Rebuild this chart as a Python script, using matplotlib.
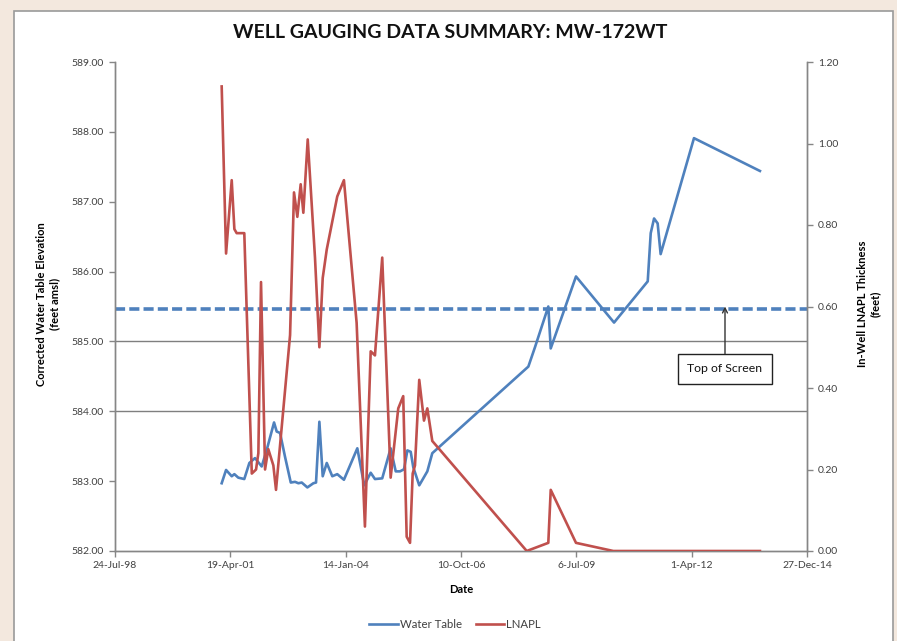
import matplotlib
matplotlib.use('Agg')
import matplotlib.pyplot as plt
import matplotlib.dates as mdates
import pandas as pd
from matplotlib.patches import Rectangle
from matplotlib.ticker import FixedLocator, FuncFormatter

# ---------------- data ----------------
wt_dates = ['2001-02-03', '2001-03-13', '2001-05-01', '2001-05-24', '2001-06-27', '2001-08-18',
            '2001-10-01', '2001-11-19', '2002-01-16', '2002-03-01', '2002-05-03', '2002-05-26',
            '2002-06-24', '2002-08-06', '2002-09-25', '2002-11-01', '2002-11-30', '2002-12-29',
            '2003-02-16', '2003-04-09', '2003-05-02', '2003-05-31', '2003-06-29', '2003-08-03',
            '2003-09-20', '2003-11-02', '2003-12-30', '2004-04-24', '2004-06-23', '2004-08-18',
            '2004-09-24', '2004-11-26', '2005-02-07', '2005-03-23', '2005-04-29', '2005-06-03',
            '2005-07-02', '2005-07-31', '2005-08-22', '2005-10-13', '2005-12-22', '2006-02-03',
            '2008-05-16', '2008-07-13', '2008-11-05', '2008-11-26', '2009-07-03', '2010-05-29',
            '2011-03-17', '2011-04-12', '2011-05-11', '2011-06-11', '2011-07-07', '2012-04-21',
            '2013-11-14']
wt_values = [582.97, 583.16, 583.07, 583.10, 583.05, 583.03,
             583.26, 583.33, 583.21, 583.45, 583.84, 583.71,
             583.69, 583.35, 582.98, 582.99, 582.97, 582.98,
             582.91, 582.97, 582.98, 583.85, 583.07, 583.26,
             583.07, 583.10, 583.02, 583.47, 582.94, 583.12,
             583.03, 583.04, 583.47, 583.14, 583.14, 583.17,
             583.44, 583.42, 583.20, 582.94, 583.14, 583.40,
             584.64, 584.92, 585.50, 584.90, 585.93, 585.27,
             585.86, 586.55, 586.76, 586.69, 586.25, 587.91,
             587.44]

lnapl_dates = ['2001-02-03', '2001-03-13', '2001-05-01', '2001-05-24', '2001-06-13', '2001-08-18',
               '2001-10-22', '2001-11-28', '2001-12-18', '2002-01-10', '2002-02-14', '2002-03-14',
               '2002-04-27', '2002-05-20', '2002-09-19', '2002-10-23', '2002-11-21', '2002-12-20',
               '2003-01-12', '2003-02-19', '2003-04-23', '2003-05-31', '2003-06-29', '2003-08-03',
               '2003-11-02', '2003-12-30', '2004-04-18', '2004-06-29', '2004-08-18', '2004-09-24',
               '2004-11-26', '2005-02-07', '2005-04-14', '2005-05-27', '2005-06-26', '2005-07-25',
               '2005-08-17', '2005-09-06', '2005-10-13', '2005-11-23', '2005-12-22', '2006-02-03',
               '2008-05-02', '2008-11-05', '2008-11-26', '2009-07-03', '2010-05-23', '2013-11-14']
lnapl_values = [1.14, 0.73, 0.91, 0.79, 0.78, 0.78,
                0.19, 0.20, 0.24, 0.66, 0.20, 0.25,
                0.21, 0.15, 0.53, 0.88, 0.82, 0.90,
                0.83, 1.01, 0.72, 0.50, 0.67, 0.74,
                0.87, 0.91, 0.56, 0.06, 0.49, 0.48,
                0.72, 0.18, 0.35, 0.38, 0.035, 0.02,
                0.19, 0.21, 0.42, 0.32, 0.35, 0.27,
                0.00, 0.02, 0.15, 0.02, 0.00, 0.00]

top_of_screen = 585.47
ref_lines = [585.0, 584.0]
x_tick_dates = ['1998-07-24', '2001-04-19', '2004-01-14', '2006-10-10',
                '2009-07-06', '2012-04-01', '2014-12-27']
left_ticks = [582, 583, 584, 585, 586, 587, 588, 589]
right_ticks = [0.0, 0.2, 0.4, 0.6, 0.8, 1.0, 1.2]

title = 'WELL GAUGING DATA SUMMARY: MW-172WT'

# ---------------- style ----------------
BLUE = '#4f81bd'
RED = '#c0504d'
AXIS_GREY = '#868686'
TICK_COLOR = '#404040'
FONT = ['Lato', 'DejaVu Sans']

plt.rcParams['font.family'] = FONT

W, H = 897, 641
fig = plt.figure(figsize=(W / 100, H / 100), dpi=100)
fig.patch.set_facecolor('#f3e8de')
fig.patches.append(Rectangle((14 / W, -0.01), (893 - 14) / W, 1 - 11 / H + 0.01,
                             transform=fig.transFigure, facecolor='white',
                             edgecolor='#9a9a9a', linewidth=1.2, zorder=-5))

l, r, t, b = 115, 807, 62, 551
ax = fig.add_axes([l / W, 1 - b / H, (r - l) / W, (b - t) / H])
ax.set_facecolor('none')
ax2 = ax.twinx()

wt_x = pd.to_datetime(wt_dates)
ln_x = pd.to_datetime(lnapl_dates)
xt = pd.to_datetime(x_tick_dates)

for y in ref_lines:
    ax.axhline(y, color='#7f7f7f', lw=1.0, zorder=1)
ax.axhline(top_of_screen, color=BLUE, lw=2.6, ls=(0, (2.8, 1.15)), zorder=2)

wt_line, = ax.plot(wt_x, wt_values, color=BLUE, lw=1.9, zorder=3, label='Water Table')
ln_line, = ax2.plot(ln_x, lnapl_values, color=RED, lw=1.9, zorder=3, label='LNAPL')

ax.set_xlim(xt[0], xt[-1])
ax.set_ylim(left_ticks[0], left_ticks[-1])
ax2.set_ylim(right_ticks[0], right_ticks[-1])

ax.xaxis.set_major_locator(FixedLocator(mdates.date2num(xt)))
ax.xaxis.set_major_formatter(FuncFormatter(
    lambda v, p: f"{mdates.num2date(v).day}-{mdates.num2date(v):%b-%y}"))
ax.set_yticks(left_ticks)
ax.yaxis.set_major_formatter(FuncFormatter(lambda v, p: f"{v:.2f}"))
ax2.set_yticks(right_ticks)
ax2.yaxis.set_major_formatter(FuncFormatter(lambda v, p: f"{v:.2f}"))

for a in (ax, ax2):
    for s in a.spines.values():
        s.set_color(AXIS_GREY)
        s.set_linewidth(1.0)
    a.spines['top'].set_visible(False)
    a.tick_params(direction='out', length=4, color=AXIS_GREY, labelsize=7.5,
                  labelcolor=TICK_COLOR, width=1.0)
ax.tick_params(axis='x', pad=3)
ax.tick_params(axis='y', pad=4)
ax2.tick_params(axis='y', pad=4)

ax.set_xlabel('Date', fontsize=8, fontweight='bold', labelpad=10)
fig.text(48 / W, 1 - 304 / H, 'Corrected Water Table Elevation\n(feet amsl)',
         rotation=90, ha='center', va='center', fontsize=8, fontweight='bold',
         multialignment='center')
fig.text(869 / W, 1 - 304 / H, 'In-Well LNAPL Thickness\n(feet)',
         rotation=90, ha='center', va='center', fontsize=8, fontweight='bold',
         multialignment='center')

fig.text(450 / W, 1 - 33 / H, title, ha='center', va='center',
         fontsize=14, fontweight='bold', color='#111111')

ax2.annotate('Top of Screen', xy=(pd.Timestamp('2013-01-15'), 0.60),
             xytext=(pd.Timestamp('2013-01-15'), 0.447), ha='center', va='center',
             fontsize=8.8, color='#111111',
             bbox=dict(boxstyle='square,pad=0.75', fc='white', ec='#222222', lw=1.0),
             arrowprops=dict(arrowstyle='->', color='#333333', lw=1.0,
                             shrinkA=0, shrinkB=0), zorder=5)

fig.legend(handles=[wt_line, ln_line], loc='center', bbox_to_anchor=(455 / W, 1 - 624 / H),
           ncol=2, frameon=False, fontsize=8.2, handlelength=2.5, handletextpad=0.2,
           columnspacing=1.2, labelcolor=TICK_COLOR)

fig.savefig('out.png', dpi=100, facecolor=fig.get_facecolor())
